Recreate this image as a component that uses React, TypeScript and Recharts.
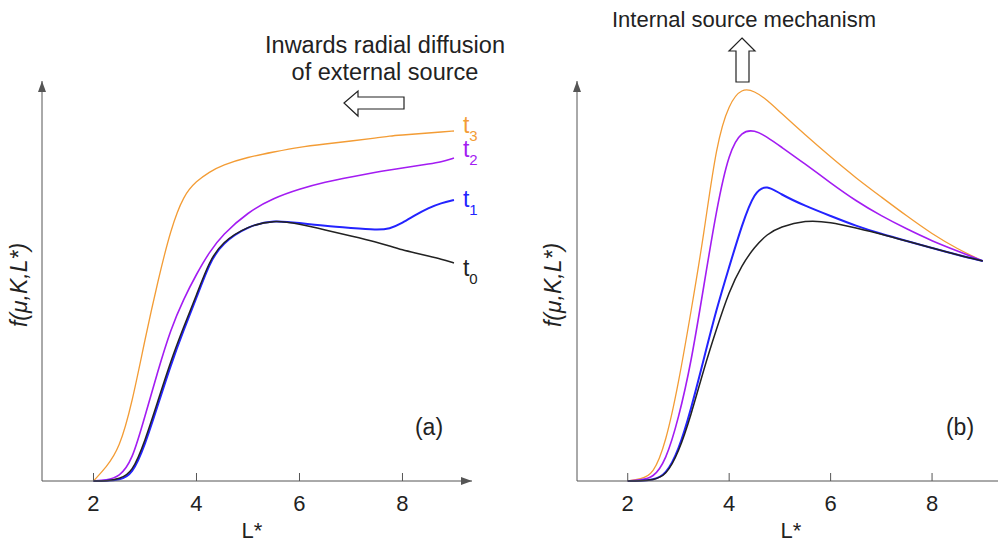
import { LineChart, Line, XAxis, YAxis, ReferenceDot, ReferenceLine } from 'recharts';

// panel (a): inwards radial diffusion of external source
const L_A = [2, 2.25, 2.5, 2.75, 3, 3.25, 3.5, 3.75, 4, 4.25, 4.5, 5, 5.5, 6, 6.5, 7, 7.5, 7.75, 8, 8.25, 8.5, 8.75, 9];
const A_T0 = [0, 0, 2, 8, 40, 80, 120, 154, 186, 220, 239, 255, 261, 257, 251, 245, 239, 235, 231, 228, 225, 222, 218];
const A_T1 = [0, 0, 1, 6, 36, 76, 116, 151, 183, 218, 238, 255, 261, 258, 255, 253, 251, 252, 258, 266, 273, 278, 281];
const A_T2 = [0, 1, 4, 20, 65, 110, 152, 182, 207, 229, 246, 269, 283, 292, 299, 304, 309, 311, 313, 315, 317, 319, 323];
const A_T3 = [0, 14, 32, 78, 142, 200, 252, 286, 300, 309, 316, 324, 329, 334, 337, 340, 343, 345, 346, 347, 348, 349, 350];

// panel (b): internal source mechanism
const L_B = [2, 2.25, 2.5, 2.75, 3, 3.25, 3.5, 3.75, 4, 4.25, 4.5, 4.75, 5, 5.5, 6, 6.5, 7, 7.5, 8, 8.5, 9];
const B_T0 = [0, 0, 1, 5, 28, 66, 112, 152, 190, 216, 234, 247, 254, 261, 259, 253, 247, 240, 233, 226, 220];
const B_T1 = [0, 0, 1, 6, 30, 72, 122, 172, 214, 256, 290, 296, 287, 275, 265, 255, 247, 240, 233, 226, 220];
const B_T2 = [0, 1, 3, 20, 62, 118, 195, 272, 330, 350, 351, 344, 335, 317, 298, 280, 265, 252, 240, 230, 220];
const B_T3 = [0, 2, 6, 38, 97, 170, 246, 338, 378, 393, 390, 381, 369, 346, 324, 303, 284, 265, 247, 232, 220];

const X_TICKS = [2, 4, 6, 8];
const Y_MAX = 400;

const AXIS = '#555';
const FONT = '"Liberation Sans", Arial, sans-serif';
const SERIES = [
  { key: 't3', sub: '3', color: '#f39c35', width: 1.3, dy: -5 },
  { key: 't2', sub: '2', color: '#a31cf2', width: 1.6, dy: -8 },
  { key: 't1', sub: '1', color: '#2323ff', width: 2, dy: 0 },
  { key: 't0', sub: '0', color: '#222', width: 1.5, dy: 6 },
];

const rows = (xs: number[], s: number[][]) =>
  xs.map((L, i) => ({ L, t0: s[0][i], t1: s[1][i], t2: s[2][i], t3: s[3][i] }));

const dataA = rows(L_A, [A_T0, A_T1, A_T2, A_T3]);
const dataB = rows(L_B, [B_T0, B_T1, B_T2, B_T3]);

const ArrowUp = (p: any) => (
  <path d={`M${p.cx},${p.cy} L${p.cx - 4},${p.cy + 11} L${p.cx + 4},${p.cy + 11} Z`} fill={AXIS} />
);
const ArrowRight = (p: any) => (
  <path d={`M${p.cx},${p.cy} L${p.cx - 11},${p.cy - 4} L${p.cx - 11},${p.cy + 4} Z`} fill={AXIS} />
);

function Panel({ data, xMax, labels, width }: { data: any[]; xMax: number; labels: boolean; width: number }) {
  const last = data.length - 1;
  return (
    <LineChart width={width} height={545} data={data} margin={{ top: 81, right: width - 42 - Math.round((xMax - 1) * (labels ? 51.5 : 50.7)), left: 42, bottom: 34 }}>
      <XAxis
        dataKey="L"
        type="number"
        domain={[1, xMax]}
        ticks={X_TICKS}
        allowDataOverflow
        height={30}
        axisLine={{ stroke: AXIS }}
        tickLine={{ stroke: AXIS }}
        tickSize={-8}
        tickMargin={22}
        tick={{ fill: '#222', fontSize: 22, fontFamily: FONT }}
      />
      <YAxis type="number" domain={[0, Y_MAX]} hide />
      <ReferenceLine x={1} stroke={AXIS} ifOverflow="visible" />
      <ReferenceDot x={1} y={Y_MAX} r={0} ifOverflow="visible" shape={ArrowUp} />
      {labels && <ReferenceDot x={xMax} y={0} r={0} ifOverflow="visible" shape={ArrowRight} />}
      {SERIES.map(s => (
        <Line
          key={s.key}
          dataKey={s.key}
          type="basis"
          stroke={s.color}
          strokeWidth={s.width}
          dot={false}
          isAnimationActive={false}
          label={
            labels
              ? (p: any) =>
                  p.index === last ? (
                    <text key={s.key} x={p.x + 9} y={p.y + s.dy + 7} fill={s.color} fontSize={23} fontFamily={FONT}>
                      t<tspan fontSize={15} dy={8}>{s.sub}</tspan>
                    </text>
                  ) : null
              : false
          }
        />
      ))}
    </LineChart>
  );
}

export default function App() {
  const txt = { fontFamily: FONT, fill: '#222' };
  return (
    <div style={{ position: 'absolute', left: 0, top: 0, width: 998, height: 545, overflow: 'hidden', background: '#fff' }}>
      <div style={{ position: 'absolute', left: 0, top: 0 }}>
        <Panel data={dataA} xMax={9.35} labels width={490} />
      </div>
      <div style={{ position: 'absolute', left: 535, top: 0 }}>
        <Panel data={dataB} xMax={9.3} labels={false} width={463} />
      </div>
      <svg width={998} height={545} style={{ position: 'absolute', left: 0, top: 0, pointerEvents: 'none' }}>
        <text x={385} y={53} textAnchor="middle" fontSize={23.5} {...txt}>Inwards radial diffusion</text>
        <text x={385} y={80} textAnchor="middle" fontSize={23.5} {...txt}>of external source</text>
        <path d="M344,103 L358,91 L358,97 L404,97 L404,109 L358,109 L358,116 Z" fill="#fff" stroke="#222" strokeWidth={1.2} />
        <text x={744} y={27} textAnchor="middle" fontSize={22} {...txt}>Internal source mechanism</text>
        <path d="M742,38 L755,51 L749,51 L749,82 L736,82 L736,51 L729,51 Z" fill="#fff" stroke="#222" strokeWidth={1.2} />
        <text x={429} y={435} textAnchor="middle" fontSize={23} {...txt}>(a)</text>
        <text x={960} y={435} textAnchor="middle" fontSize={23} {...txt}>(b)</text>
        <text x={252} y={538} textAnchor="middle" fontSize={22} {...txt}>L*</text>
        <text x={791} y={538} textAnchor="middle" fontSize={22} {...txt}>L*</text>
        <text transform="translate(27,285) rotate(-90)" textAnchor="middle" fontSize={23} fontStyle="italic" {...txt}>f(μ,K,L*)</text>
        <text transform="translate(561,285) rotate(-90)" textAnchor="middle" fontSize={23} fontStyle="italic" {...txt}>f(μ,K,L*)</text>
      </svg>
    </div>
  );
}
